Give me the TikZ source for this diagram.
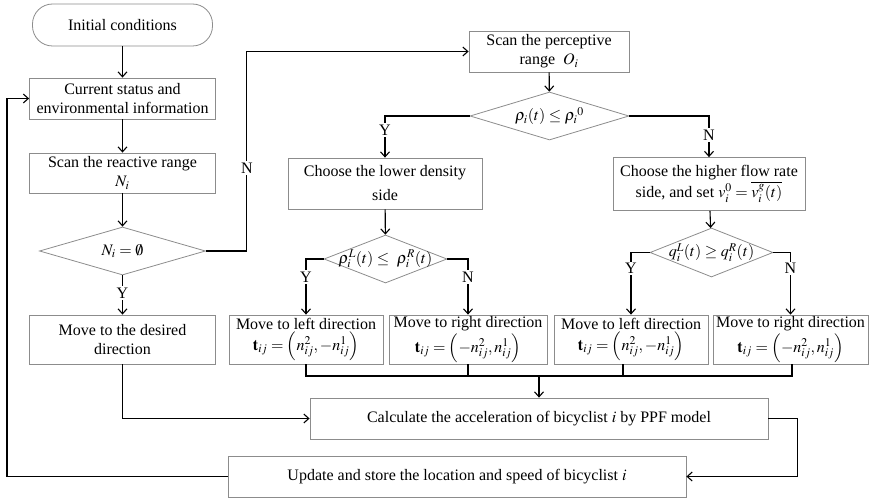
\documentclass[tikz,border=0pt]{standalone}
\usepackage{mathptmx}
\usepackage{fontspec}
\setmainfont{Liberation Serif}
\usetikzlibrary{shapes.geometric,arrows.meta}
\definecolor{boxgray}{RGB}{140,140,140}
\begin{document}
\begin{tikzpicture}[x=1pt,y=-1pt,
  every node/.style={font=\fontsize{16}{19}\selectfont},
  box/.style={draw=boxgray, line width=0.8pt, align=center, inner sep=0pt, rectangle},
  dia/.style={draw=boxgray, line width=0.8pt, diamond, inner sep=0pt},
  conn/.style={line width=1.1pt, black},
  arr/.style={conn, -{Straight Barb[length=5pt,width=9pt]}},
  lab/.style={fill=white, inner sep=1.5pt}
]
\useasboundingbox (0,0) rectangle (869,500);

% left column
\node[box, rounded corners=20pt, minimum width=180pt, minimum height=42pt] (init) at (122.5,25) {Initial conditions};
\node[box, minimum width=186pt, minimum height=41pt] (cur) at (122.5,98.5) {Current status and\\environmental information};
\node[box, minimum width=186pt, minimum height=40pt] (scanR) at (122.5,173) {Scan the reactive range\\$N_i$};
\node[dia, minimum width=166pt, minimum height=48pt, label=center:{$N_i=\emptyset$}] (d1) at (122.5,251) {};
\node[box, minimum width=186pt, minimum height=49pt] (moveD) at (122.5,339.5) {Move to the desired\\direction};

% upper middle
\node[box, minimum width=160pt, minimum height=41pt] (scanP) at (549,51.5) {Scan the perceptive\\range\ \ $O_i$};
\node[dia, minimum width=159pt, minimum height=48pt, label=center:{$\rho_i(t)\leq{\rho_i}^{0}$}] (d2) at (549.5,116) {};

% two branches
\node[box, minimum width=194pt, minimum height=51pt] (low) at (385,183.5) {Choose the lower density\\[5pt]side};
\node[box, minimum width=192pt, minimum height=53pt] (high) at (709,184) {Choose the higher flow rate\\side, and set $v_i^0=\overline{v_i^g(t)}$};
\node[dia, minimum width=123pt, minimum height=48pt, label=center:{$\rho_i^L(t)\leq\ \rho_i^R(t)$}] (d3) at (385.5,259) {};
\node[dia, minimum width=123pt, minimum height=49pt, label=center:{$q_i^L(t)\geq q_i^R(t)$}] (d4) at (711.5,252.5) {};

% direction boxes
\node[box, minimum width=154pt, minimum height=49pt] (b1) at (306,339.5) {Move to left direction\\[2pt]$\mathbf{t}_{ij}=\left(n_{ij}^2,-n_{ij}^1\right)$};
\node[box, minimum width=158pt, minimum height=49pt] (b2) at (468,339.5) {Move to right direction\\[2pt]$\mathbf{t}_{ij}=\left(-n_{ij}^2,n_{ij}^1\right)$};
\node[box, minimum width=154pt, minimum height=49pt] (b3) at (631,339.5) {Move to left direction\\[2pt]$\mathbf{t}_{ij}=\left(n_{ij}^2,-n_{ij}^1\right)$};
\node[box, minimum width=155pt, minimum height=49pt] (b4) at (790.5,339.5) {Move to right direction\\[2pt]$\mathbf{t}_{ij}=\left(-n_{ij}^2,n_{ij}^1\right)$};

% bottom
\node[box, minimum width=458pt, minimum height=41pt] (calc) at (539,418.5) {Calculate the acceleration of bicyclist $i$ by PPF model};
\node[box, minimum width=458pt, minimum height=41pt] (upd) at (457,476.5) {Update and store the location and speed of bicyclist $i$};

\coordinate (m) at (539,376);
\coordinate (loopc) at (7,476.5);

% connectors
\draw[arr] (init) -- (cur);
\draw[arr] (cur) -- (scanR);
\draw[arr] (scanR) -- (d1);
\draw[arr] (d1.south) -- node[lab, pos=0.45]{Y} (moveD.north);
\draw[arr] (d1.east) -- ++(41,0) |- node[lab, pos=0.2085]{N} (scanP.west);
\draw[arr] (scanP) -- (d2);
\draw[arr] (d2.west) -| node[lab, pos=0.667]{Y} (low.north);
\draw[arr] (d2.east) -| node[lab, pos=0.73]{N} (high.north);
\draw[arr] (low) -- (d3);
\draw[arr] (high) -- (d4);
\draw[arr] (d3.west) -| node[lab, pos=0.66]{Y} (b1.north);
\draw[arr] (d3.east) -| node[lab, pos=0.66]{N} (b2.north);
\draw[arr] (d4.west) -| node[lab, pos=0.627]{Y} (b3.north);
\draw[arr] (d4.east) -| node[lab, pos=0.627]{N} (b4.north);

\draw[conn] (b1.south) -- (b1.south |- m) -- ([xshift=1.5pt]b4.south |- m) -- ([xshift=1.5pt]b4.south);
\draw[conn] (b2.south) -- (b2.south |- m);
\draw[conn] ([xshift=-8pt]b3.south) -- ([xshift=-8pt]b3.south |- m);
\draw[arr] (m) -- (calc.north);

\draw[arr] (moveD.south) |- (calc.west);
\draw[arr] (calc.east) -- ++(29,0) |- (upd.east);
\draw[arr] (upd.west) -- (loopc) |- (cur.west);
\end{tikzpicture}
\end{document}
